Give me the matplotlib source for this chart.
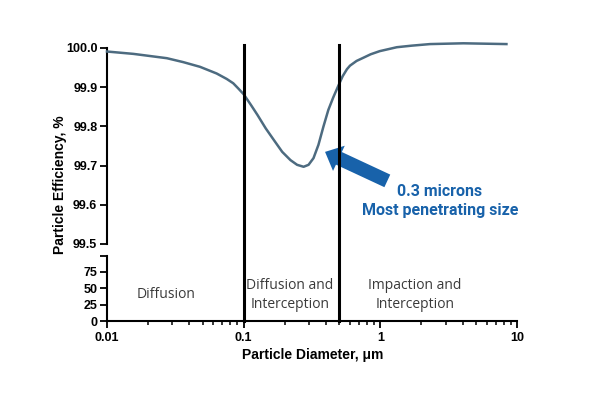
import matplotlib
matplotlib.use("Agg")
import matplotlib.pyplot as plt
from matplotlib import transforms
from matplotlib.lines import Line2D
import matplotlib.ticker as mticker

# Data
diam = [0.01, 0.0156, 0.0274, 0.0361, 0.0479, 0.0634, 0.0752, 0.0839, 0.0912,
        0.1, 0.1129, 0.1263, 0.145, 0.1665, 0.1915, 0.220, 0.246, 0.2745,
        0.2984, 0.3243, 0.3525, 0.383, 0.4164, 0.4524, 0.4918, 0.53, 0.57,
        0.60, 0.67, 0.75, 0.85, 0.99, 1.32, 1.7, 2.31, 4.05, 8.37]
eff = [99.991, 99.985, 99.974, 99.964, 99.952, 99.935, 99.921, 99.910, 99.897,
       99.882, 99.855, 99.829, 99.795, 99.765, 99.735, 99.714, 99.702, 99.697,
       99.702, 99.719, 99.753, 99.799, 99.842, 99.874, 99.903, 99.928, 99.946,
       99.955, 99.967, 99.975, 99.984, 99.992, 100.002, 100.006, 100.010,
       100.012, 100.010]
boundaries = [0.1, 0.5]
upper_ticks = [99.5, 99.6, 99.7, 99.8, 99.9, 100.0]
lower_ticks = [0, 25, 50, 75]
x_ticks = [0.01, 0.1, 1, 10]
x_ticklabels = ["0.01", "0.1", "1", "10"]
regions = [(0.027, "Diffusion"), (0.218, "Diffusion and\nInterception"),
           (1.79, "Impaction and\nInterception")]
note_lines = "0.3 microns\nMost penetrating size"

W, H = 600, 400
fig = plt.figure(figsize=(6, 4), dpi=100)
left, right = 107 / W, 517 / W
ax_up = fig.add_axes([left, 1 - 244 / H, right - left, (244 - 48) / H])
ax_lo = fig.add_axes([left, 1 - 321 / H, right - left, (321 - 256) / H])

for ax in (ax_up, ax_lo):
    ax.set_xscale("log")
    ax.set_xlim(0.01, 10)
    for s in ("top", "right"):
        ax.spines[s].set_visible(False)
    ax.spines["left"].set_linewidth(1.5)
    ax.tick_params(axis="y", direction="out", length=5, width=1.3,
                   labelsize=9, pad=2)

ax_up.set_ylim(99.5, 100.0)
ax_up.spines["bottom"].set_visible(False)
ax_up.tick_params(axis="x", which="both", bottom=False, labelbottom=False)
ax_up.set_yticks(upper_ticks)
ax_up.yaxis.set_major_formatter(mticker.FormatStrFormatter("%.1f"))

ax_lo.set_ylim(0, 99)
ax_lo.set_yticks(lower_ticks + [99])
ax_lo.set_yticklabels([str(t) for t in lower_ticks] + [""])
ax_lo.spines["bottom"].set_linewidth(1.5)
ax_lo.set_xticks(x_ticks)
ax_lo.set_xticklabels(x_ticklabels)
ax_lo.tick_params(axis="x", which="major", direction="out", length=5,
                  width=1.3, labelsize=9, pad=3)
ax_lo.tick_params(axis="x", which="minor", direction="out", length=3,
                  width=1.1)

for ax in (ax_up, ax_lo):
    for lab in ax.get_yticklabels() + ax.get_xticklabels():
        lab.set_fontweight("bold")
        lab.set_fontfamily("Liberation Sans")

ax_up.plot(diam, eff, color="#4d6b80", lw=1.8, clip_on=False, zorder=3,
           solid_joinstyle="round")

trans = transforms.blended_transform_factory(ax_lo.transData, fig.transFigure)
for b in boundaries:
    fig.add_artist(Line2D([b, b], [1 - 321 / H, 1 - 45 / H], transform=trans,
                          color="black", lw=2.2))

for xr, txt in regions:
    ax_lo.text(xr, 0.40, txt, transform=ax_lo.get_xaxis_transform(),
               ha="center", va="center", fontsize=10, color="#3a3a3a",
               family="Open Sans", linespacing=1.3)

fig.text(313 / W, 1 - 355 / H, "Particle Diameter, \u03bcm",
         ha="center", va="center", fontsize=10, fontweight="bold",
         family="Liberation Sans")
fig.text(60 / W, 1 - 185 / H, "Particle Efficiency, %", rotation=90,
         ha="center", va="center", fontsize=10, fontweight="bold",
         family="Liberation Sans")

blue = "#1862aa"
ax_up.annotate("", xy=(0.394, 99.735), xytext=(1.125, 99.661),
               arrowprops=dict(arrowstyle="simple,head_length=1.1,head_width=2.0,tail_width=1.0",
                               color=blue, lw=0, shrinkA=0, shrinkB=0),
               annotation_clip=False)
fig.text(440 / W, 1 - 201 / H, note_lines, ha="center", va="center",
         fontsize=11.5, fontweight="bold", color=blue, family="Roboto",
         linespacing=1.3)

fig.savefig("out.png", dpi=100)
